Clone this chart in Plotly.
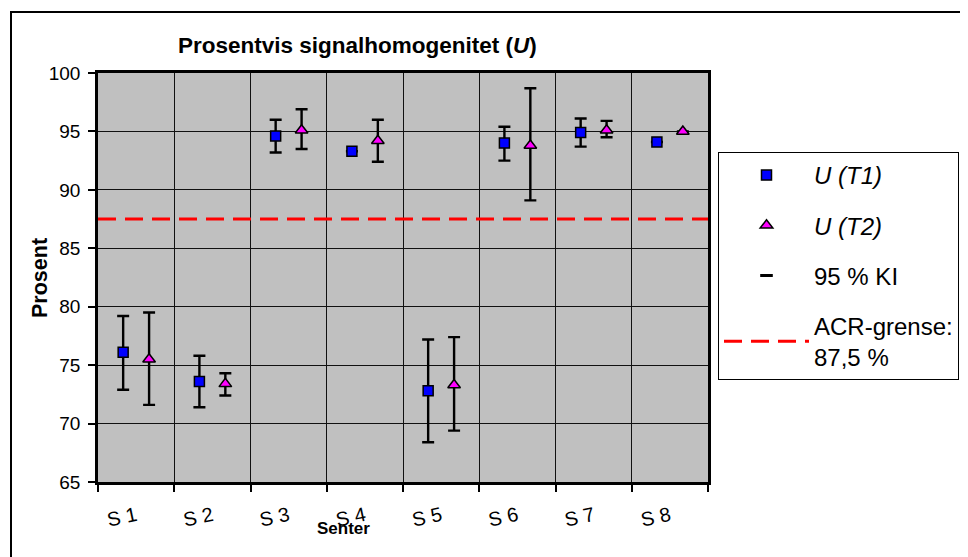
import plotly.graph_objects as go

categories = ["S 1", "S 2", "S 3", "S 4", "S 5", "S 6", "S 7", "S 8"]
t1_value = [76.1, 73.6, 94.6, 93.3, 72.8, 94.0, 94.9, 94.1]
t1_upper = [79.2, 75.8, 96.0, None, 77.2, 95.4, 96.1, None]
t1_lower = [72.9, 71.4, 93.2, None, 68.4, 92.5, 93.7, None]
t2_value = [75.5, 73.4, 95.1, 94.2, 73.3, 93.8, 95.1, 95.0]
t2_upper = [79.5, 74.3, 96.9, 96.0, 77.4, 98.7, 95.9, None]
t2_lower = [71.6, 72.4, 93.5, 92.4, 69.4, 89.1, 94.5, None]
acr_limit = 87.5

W, H = 968, 557
D = 8  # page body margin offset
ML, MT = 98 - D, 73 - D
pw, ph = 610, 409
MR, MB = W - ML - pw, H - MT - ph


def px_x(p):
    return (p - D - ML) / pw


def px_y(p):
    return (MT + ph - (p - D)) / ph


n = len(categories)
pos = list(range(1, n + 1))
off = 0.17


def err(v, up, lo):
    plus = [(u - x) if u is not None else None for x, u in zip(v, up)]
    minus = [(x - l) if l is not None else None for x, l in zip(v, lo)]
    return plus, minus


p1, m1 = err(t1_value, t1_upper, t1_lower)
p2, m2 = err(t2_value, t2_upper, t2_lower)

fig = go.Figure()
fig.add_trace(go.Scatter(
    x=[p - off for p in pos], y=t1_value, mode="markers", name="<i>U (T1)</i>",
    marker=dict(symbol="square", size=10, color="#0000FF", line=dict(color="black", width=1.5)),
    error_y=dict(type="data", array=p1, arrayminus=m1, color="black", thickness=2.4, width=6),
    legendgroup="a"))
fig.add_trace(go.Scatter(
    x=[p + off for p in pos], y=t2_value, mode="markers", name="<i>U (T2)</i>",
    marker=dict(symbol="triangle-up", size=11, color="#FF00FF", line=dict(color="black", width=1.5)),
    error_y=dict(type="data", array=p2, arrayminus=m2, color="black", thickness=2.4, width=6),
    legendgroup="b"))
fig.add_trace(go.Scatter(
    x=[None], y=[None], mode="markers", name="95 % KI",
    marker=dict(symbol="line-ew", size=9, color="black", line=dict(color="black", width=3)),
    legendgroup="c"))
fig.add_trace(go.Scatter(
    x=[0.5, n + 0.5], y=[acr_limit, acr_limit], mode="lines",
    name="ACR-grense:<br>87,5 %",
    line=dict(color="#FF0000", width=3, dash="18px,9px"),
    legendgroup="d"))

fig.update_layout(
    width=W, height=H,
    margin=dict(l=ML, r=MR, t=MT, b=MB, autoexpand=False),
    paper_bgcolor="white", plot_bgcolor="#C0C0C0",
    font=dict(family="Liberation Sans, Arial", size=18, color="black"),
    showlegend=True,
    legend=dict(x=px_x(718), y=px_y(152), xanchor="left", yanchor="top",
                bgcolor="white", bordercolor="black", borderwidth=1,
                font=dict(size=24), tracegroupgap=16, itemwidth=85),
    annotations=[
        dict(text="<b>Prosentvis signalhomogenitet (<i>U</i>)</b>", x=px_x(357), y=px_y(46),
             xref="paper", yref="paper", xanchor="center", yanchor="middle",
             showarrow=False, font=dict(size=22.5)),
        dict(text="<b>Senter</b>", x=px_x(343), y=px_y(528),
             xref="paper", yref="paper", xanchor="center", yanchor="middle",
             showarrow=False, font=dict(size=17)),
        dict(text="<b>Prosent</b>", x=px_x(40), y=px_y(278), textangle=-90,
             xref="paper", yref="paper", xanchor="center", yanchor="middle",
             showarrow=False, font=dict(size=21.5)),
    ],
    shapes=[dict(type="rect", xref="paper", yref="paper",
                 x0=px_x(11), x1=px_x(1000), y0=px_y(600), y1=px_y(12),
                 line=dict(color="black", width=2), layer="below")],
)
fig.update_xaxes(
    range=[0.5, n + 0.5], tickvals=pos, ticktext=categories, tickangle=-12,
    showgrid=False, ticks="", showline=True, linecolor="black", linewidth=2.5, mirror=True,
    zeroline=False, tickfont=dict(size=20), ticklabelstandoff=12, automargin=False,
    minor=dict(tick0=0.5, dtick=1, showgrid=True, gridcolor="#111111", gridwidth=1,
               ticks="outside", ticklen=7, tickcolor="black", tickwidth=2),
)
fig.update_yaxes(
    range=[65, 100], dtick=5, showgrid=True, gridcolor="#111111", gridwidth=1,
    ticks="outside", ticklen=7, tickwidth=2, tickcolor="black", ticklabelstandoff=4,
    showline=True, linecolor="black", linewidth=2.5, mirror=True, zeroline=False,
    tickfont=dict(size=19), automargin=False,
)

fig.write_html("out.html")
